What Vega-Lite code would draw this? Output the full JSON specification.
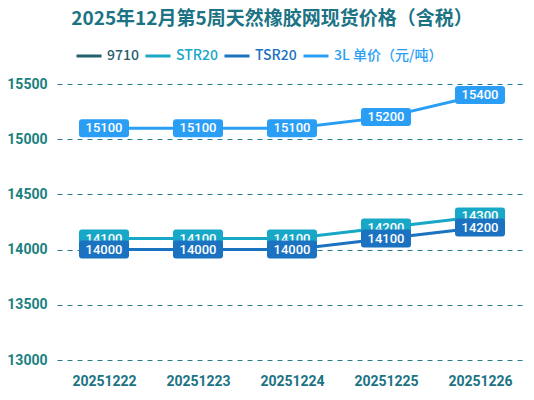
{
  "$schema": "https://vega.github.io/schema/vega-lite/v6.json",
  "width": 470,
  "height": 276,
  "padding": {"left": 6, "right": 7, "top": 10, "bottom": 8},
  "background": "#ffffff",
  "title": {"text": "2025年12月第5周天然橡胶网现货价格（含税）", "fontSize": 19, "fontWeight": "bold", "color": "#1b7384", "font": "Noto Sans CJK SC", "anchor": "middle", "dx": -20, "offset": 13},
  "data": {"values": [
    {"date": "20251222", "series": "STR20", "price": 14100},
    {"date": "20251223", "series": "STR20", "price": 14100},
    {"date": "20251224", "series": "STR20", "price": 14100},
    {"date": "20251225", "series": "STR20", "price": 14200},
    {"date": "20251226", "series": "STR20", "price": 14300},
    {"date": "20251222", "series": "TSR20", "price": 14000},
    {"date": "20251223", "series": "TSR20", "price": 14000},
    {"date": "20251224", "series": "TSR20", "price": 14000},
    {"date": "20251225", "series": "TSR20", "price": 14100},
    {"date": "20251226", "series": "TSR20", "price": 14200},
    {"date": "20251222", "series": "3L 单价（元/吨）", "price": 15100},
    {"date": "20251223", "series": "3L 单价（元/吨）", "price": 15100},
    {"date": "20251224", "series": "3L 单价（元/吨）", "price": 15100},
    {"date": "20251225", "series": "3L 单价（元/吨）", "price": 15200},
    {"date": "20251226", "series": "3L 单价（元/吨）", "price": 15400}
  ]},
  "encoding": {
    "x": {"field": "date", "type": "nominal", "sort": null, "title": null,
      "axis": {"labelAngle": 0, "labelFontSize": 14, "labelFontWeight": "bold", "labelColor": "#1b7384", "labelFont": "Roboto", "domain": false, "ticks": false, "labelPadding": 14}},
    "y": {"field": "price", "type": "quantitative", "title": null,
      "scale": {"domain": [13000, 15500], "nice": false, "zero": false},
      "axis": {"values": [13000, 13500, 14000, 14500, 15000, 15500], "format": "d", "labelFontSize": 14, "labelFontWeight": "bold", "labelColor": "#1b8080", "labelFont": "Roboto", "domain": false, "ticks": false, "labelPadding": 10, "grid": true, "gridColor": "#2a7f8c", "gridDash": [5, 5], "gridWidth": 1.2}},
    "color": {"field": "series", "type": "nominal", "title": null,
      "scale": {"domain": ["9710", "STR20", "TSR20", "3L 单价（元/吨）"], "range": ["#245d6b", "#17a7c7", "#1a72c0", "#2a9ef5"]},
      "legend": {"orient": "none", "legendX": 18, "legendY": -42, "direction": "horizontal", "symbolType": "stroke", "symbolSize": 625, "symbolStrokeWidth": 3, "labelFontSize": 14, "labelFontWeight": 500, "columnPadding": 0, "labelOffset": 4,
        "encode": {"labels": {"update": {"fill": {"signal": "scale('color', datum.value)"}}}}}}
  },
  "layer": [
    {"mark": {"type": "line", "strokeWidth": 3}},
    {"transform": [{"filter": "datum.series == 'STR20'"}],
     "mark": {"type": "point", "filled": true, "opacity": 1, "size": 2500, "shape": "M-0.88,-0.36 H0.88 Q1,-0.36 1,-0.24 V0.24 Q1,0.36 0.88,0.36 H-0.88 Q-1,0.36 -1,0.24 V-0.24 Q-1,-0.36 -0.88,-0.36 Z"}},
    {"transform": [{"filter": "datum.series == 'STR20'"}],
     "mark": {"type": "text", "color": "#ffffff", "fontSize": 13, "font": "Roboto", "fontWeight": 500},
     "encoding": {"text": {"field": "price", "type": "quantitative", "format": "d"}, "color": {"value": "#ffffff"}}},
    {"transform": [{"filter": "datum.series == 'TSR20'"}],
     "mark": {"type": "point", "filled": true, "opacity": 1, "size": 2500, "shape": "M-0.88,-0.36 H0.88 Q1,-0.36 1,-0.24 V0.24 Q1,0.36 0.88,0.36 H-0.88 Q-1,0.36 -1,0.24 V-0.24 Q-1,-0.36 -0.88,-0.36 Z"}},
    {"transform": [{"filter": "datum.series == 'TSR20'"}],
     "mark": {"type": "text", "color": "#ffffff", "fontSize": 13, "font": "Roboto", "fontWeight": 500},
     "encoding": {"text": {"field": "price", "type": "quantitative", "format": "d"}, "color": {"value": "#ffffff"}}},
    {"transform": [{"filter": "datum.series == '3L 单价（元/吨）'"}],
     "mark": {"type": "point", "filled": true, "opacity": 1, "size": 2500, "shape": "M-0.88,-0.36 H0.88 Q1,-0.36 1,-0.24 V0.24 Q1,0.36 0.88,0.36 H-0.88 Q-1,0.36 -1,0.24 V-0.24 Q-1,-0.36 -0.88,-0.36 Z"}},
    {"transform": [{"filter": "datum.series == '3L 单价（元/吨）'"}],
     "mark": {"type": "text", "color": "#ffffff", "fontSize": 13, "font": "Roboto", "fontWeight": 500},
     "encoding": {"text": {"field": "price", "type": "quantitative", "format": "d"}, "color": {"value": "#ffffff"}}}
  ],
  "config": {"view": {"stroke": null}, "legend": {"labelFont": "Noto Sans CJK SC"}}
}
